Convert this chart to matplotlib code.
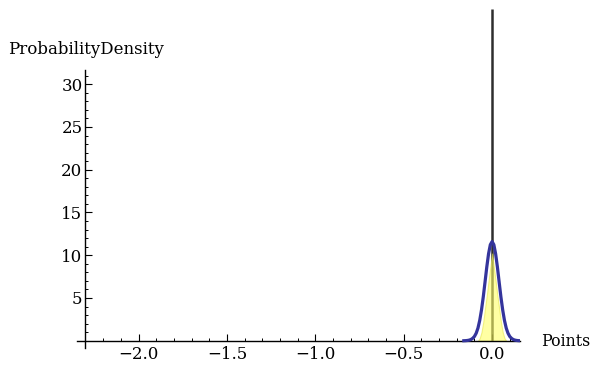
import matplotlib
matplotlib.use("Agg")
import matplotlib.pyplot as plt
from matplotlib.ticker import FixedLocator

# Data
curve_x = [-0.16, -0.15, -0.14, -0.13, -0.12, -0.11, -0.10, -0.09, -0.08, -0.07, -0.06, -0.05,
           -0.04, -0.03, -0.02, -0.01, 0.0, 0.01, 0.02, 0.03, 0.04, 0.05, 0.06, 0.07, 0.08,
           0.09, 0.10, 0.11, 0.12, 0.13, 0.14, 0.15, 0.16]
curve_y = [0.0, 0.01, 0.03, 0.07, 0.14, 0.28, 0.50, 0.88, 1.48, 2.38, 3.60, 5.12,
           6.86, 8.63, 10.17, 11.23, 11.6, 11.23, 10.17, 8.63, 6.86, 5.12, 3.60, 2.38, 1.48,
           0.88, 0.50, 0.28, 0.14, 0.07, 0.03, 0.01, 0.0]

fill_x = [-0.08, -0.07, -0.06, -0.05, -0.04, -0.03, -0.02, -0.01, 0.0,
          0.01, 0.02, 0.03, 0.04, 0.05, 0.06, 0.07, 0.08]
fill_y = [0.0, 0.3, 1.0, 2.2, 3.8, 5.3, 7.0, 8.6, 10.2,
          8.6, 7.0, 5.3, 3.8, 2.2, 1.0, 0.3, 0.0]

vline_x = 0.0
vline_top = 38.8

xticks = [-2.0, -1.5, -1.0, -0.5, 0.0]
xtick_labels = ["\u22122.0", "\u22121.5", "\u22121.0", "\u22120.5", "0.0"]
yticks = [5, 10, 15, 20, 25, 30]
ytick_labels = ["5", "10", "15", "20", "25", "30"]

plt.rcParams['font.family'] = ['DejaVu Serif']

W, H = 593, 371
fig = plt.figure(figsize=(W / 100, H / 100), dpi=100)
fig.patch.set_facecolor('white')

px_left, px_right, px_top, px_bottom = 77, 520, 9, 348
ax = fig.add_axes([px_left / W, (H - px_bottom) / H,
                   (px_right - px_left) / W, (px_bottom - px_top) / H])
ax.set_xlim(-2.35, 0.158)
ax.set_ylim(-0.85, 38.8)
ax.patch.set_alpha(0)

ax.plot([vline_x, vline_x], [0, vline_top], color='#2e2e2e', lw=1.8, zorder=1,
        solid_capstyle='butt', clip_on=False)
ax.fill_between(fill_x, 0, fill_y, facecolor='#ffff66', alpha=0.6,
                edgecolor='#e6e64d', lw=0.8, zorder=2)
ax.plot(curve_x, curve_y, color='#34349c', lw=2.3, zorder=3)

for s in ['top', 'right']:
    ax.spines[s].set_visible(False)
ax.spines['left'].set_position(('data', -2.303))
ax.spines['bottom'].set_position(('data', 0))
ax.spines['left'].set_bounds(-0.85, 31.7)
ax.spines['bottom'].set_bounds(-2.35, 0.158)
for s in ['left', 'bottom']:
    ax.spines[s].set_linewidth(1.0)
    ax.spines[s].set_color('black')

ax.xaxis.set_major_locator(FixedLocator(xticks))
ax.set_xticklabels(xtick_labels)
ax.xaxis.set_minor_locator(FixedLocator([-2.2, -2.1, -1.9, -1.8, -1.7, -1.6, -1.4, -1.3, -1.2, -1.1,
                                         -0.9, -0.8, -0.7, -0.6, -0.4, -0.3, -0.2, -0.1, 0.1]))
ax.yaxis.set_major_locator(FixedLocator(yticks))
ax.set_yticklabels(ytick_labels)
ax.yaxis.set_minor_locator(FixedLocator([v for v in range(1, 32) if v % 5 != 0]))

FS = 12
ax.tick_params(axis='both', which='major', direction='in', length=5, width=0.8,
               labelsize=FS, colors='black')
ax.tick_params(axis='both', which='minor', direction='in', length=2.5, width=0.7)
ax.tick_params(axis='x', pad=4)
ax.tick_params(axis='y', pad=2)

fig.text(8 / W, 1 - 50 / H, "ProbabilityDensity", ha='left', va='center', fontsize=FS)
fig.text(541 / W, 1 - 341 / H, "Points", ha='left', va='center', fontsize=11.3)

fig.savefig('out.png', dpi=100)
